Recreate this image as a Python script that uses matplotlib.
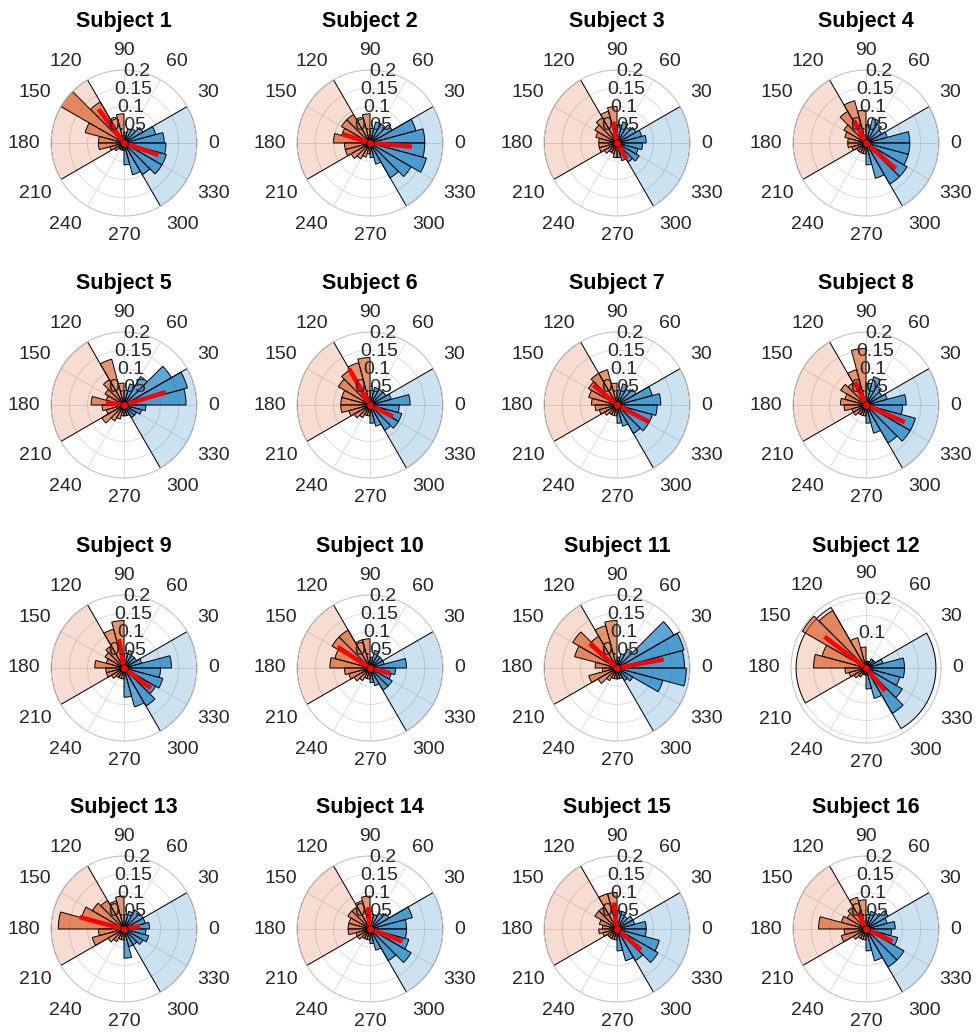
import numpy as np
import matplotlib
matplotlib.use('Agg')
import matplotlib.pyplot as plt

plt.rcParams['font.family'] = ['Liberation Sans', 'DejaVu Sans']

# 24 bins of 15 deg, bin k covers [15k, 15k+15) degrees, values are probabilities
subject_01 = [.11, .09, .06, .045, .04, .03, .08, .07, .13, .20, .11, .07, .07, .04, .03, .02, .02, .02, .06, .09, .10, .12, .12, .115]
subject_02 = [.15, .13, .07, .06, .06, .04, .08, .07, .09, .09, .08, .10, .07, .07, .06, .05, .04, .03, .04, .06, .11, .13, .16, .15]
subject_03 = [.08, .07, .06, .05, .06, .05, .10, .09, .08, .07, .06, .05, .05, .05, .04, .03, .03, .04, .04, .05, .06, .07, .06, .07]
subject_04 = [.12, .06, .05, .06, .07, .05, .09, .12, .10, .07, .06, .05, .05, .04, .03, .03, .03, .03, .06, .10, .13, .13, .12, .12]
subject_05 = [.17, .18, .15, .09, .06, .04, .06, .13, .08, .06, .05, .09, .06, .05, .07, .05, .04, .03, .03, .03, .04, .04, .05, .06]
subject_06 = [.11, .06, .05, .05, .05, .04, .13, .12, .11, .10, .08, .08, .08, .06, .05, .04, .03, .03, .05, .06, .08, .09, .09, .08]
subject_07 = [.12, .10, .06, .05, .06, .04, .06, .10, .10, .09, .08, .07, .06, .05, .04, .03, .03, .03, .05, .06, .09, .10, .10, .11]
subject_08 = [.11, .06, .05, .06, .08, .06, .155, .10, .07, .08, .06, .07, .06, .04, .04, .03, .03, .03, .05, .08, .12, .14, .14, .10]
subject_09 = [.13, .05, .04, .04, .05, .04, .13, .11, .07, .06, .05, .08, .05, .05, .04, .03, .03, .03, .08, .11, .12, .10, .11, .10]
subject_10 = [.10, .04, .04, .04, .05, .03, .08, .08, .12, .12, .10, .11, .07, .06, .05, .04, .03, .03, .04, .05, .07, .07, .06, .07]
subject_11 = [.185, .19, .18, .06, .04, .03, .13, .12, .10, .14, .12, .06, .04, .08, .06, .04, .03, .03, .03, .03, .04, .05, .13, .19]
subject_12 = [.11, .05, .03, .03, .02, .02, .06, .09, .19, .21, .13, .15, .06, .05, .04, .03, .02, .02, .06, .09, .15, .12, .10, .11]
subject_13 = [.07, .06, .06, .06, .05, .04, .09, .08, .09, .10, .12, .18, .07, .09, .05, .04, .03, .03, .08, .05, .05, .06, .07, .06]
subject_14 = [.10, .12, .06, .05, .04, .04, .09, .08, .07, .07, .06, .06, .06, .04, .04, .03, .03, .03, .04, .06, .10, .13, .11, .10]
subject_15 = [.08, .05, .05, .04, .05, .05, .10, .10, .07, .07, .05, .04, .05, .04, .03, .03, .03, .03, .06, .09, .10, .13, .12, .08]
subject_16 = [.08, .06, .07, .05, .05, .04, .08, .09, .07, .06, .07, .13, .06, .07, .04, .03, .03, .03, .06, .09, .12, .12, .09, .07]

subjects = [subject_01, subject_02, subject_03, subject_04, subject_05, subject_06, subject_07, subject_08,
            subject_09, subject_10, subject_11, subject_12, subject_13, subject_14, subject_15, subject_16]

# mean vectors (deg, length) for the right (blue) and left (orange) halves
right_dir = [-19, -5, -60, -41, 17, -27, -28, -24, -37, -15, 10.5, -50, 10, -21, -41, -25]
right_len = [.10, .115, .05, .108, .12, .07, .10, .116, .092, .058, .13, .086, .045, .095, .087, .08]
left_dir = [127, 162, 100, 118, 172, 120, 140, 115, 100, 147, 138, 143, 165, 95, 97, 115]
left_len = [.116, .08, .06, .07, .05, .115, .085, .07, .08, .106, .10, .148, .126, .06, .073, .05]

r_limits = [0.2] * 11 + [0.2145] + [0.2] * 4

blue = np.array([0, 0.447, 0.741])
orange = np.array([0.85, 0.325, 0.098])
txt_col = '#262626'

W, H = 977, 1034
fig = plt.figure(figsize=(W / 100, H / 100), dpi=100)

col_x = [124, 370, 617, 866]
row_y = [143, 405, 668, 929]

bin_w = np.deg2rad(15)
bin_c = np.deg2rad(np.arange(24) * 15 + 7.5)

for i, vals in enumerate(subjects):
    cx = col_x[i % 4]
    cy = row_y[i // 4]
    rlim = r_limits[i]
    R = 73 if rlim <= 0.2 else 75
    ax = fig.add_axes([(cx - R) / W, 1 - (cy + R) / H, 2 * R / W, 2 * R / H], projection='polar')

    # sector backgrounds
    ax.bar(np.deg2rad(-15), 0.2, width=np.deg2rad(90), color=tuple(blue) + (0.2,),
           edgecolor='k', linewidth=0.7, zorder=1)
    ax.bar(np.deg2rad(165), 0.2, width=np.deg2rad(90), color=tuple(orange) + (0.2,),
           edgecolor='k', linewidth=0.7, zorder=1)

    vals = np.array(vals)
    is_right = np.cos(bin_c) > 0
    ax.bar(bin_c[is_right], vals[is_right], width=bin_w, color=tuple(blue) + (0.62,),
           edgecolor='k', linewidth=0.7, zorder=2)
    ax.bar(bin_c[~is_right], vals[~is_right], width=bin_w, color=tuple(orange) + (0.62,),
           edgecolor='k', linewidth=0.7, zorder=2)

    for d, l in [(right_dir[i], right_len[i]), (left_dir[i], left_len[i])]:
        ax.plot([np.deg2rad(d)] * 2, [0, l], color='red', lw=3.3, solid_capstyle='butt', zorder=3)
    ax.plot([0], [0], 'o', color='red', mec='k', mew=0.7, ms=5.5, zorder=4)

    ax.set_ylim(0, rlim)
    ax.set_xticks(np.deg2rad(np.arange(0, 360, 30)))
    ax.set_xticklabels([])
    rt = [0.05, 0.1, 0.15, 0.2]
    ax.set_yticks(rt)
    ax.set_yticklabels([])
    ax.grid(True, color='#dcdcdc', lw=0.7)
    ax.set_axisbelow(True)
    ax.spines['polar'].set_color('#c8c8c8')
    ax.spines['polar'].set_linewidth(0.8)

    # radial labels along 80 deg
    for r in rt:
        if rlim > 0.2 and r in (0.05, 0.15):
            continue
        ax.text(np.deg2rad(80), r, '%g' % r, ha='center', va='center', fontsize=14,
                color=txt_col, zorder=5)

    # angle labels, aligned by their nearest edge
    r_lab = rlim * (R + 11) / R
    for a in range(0, 360, 30):
        t = np.deg2rad(a)
        c, s = np.cos(t), np.sin(t)
        ha = 'left' if c > 0.1 else ('right' if c < -0.1 else 'center')
        va = 'bottom' if s > 0.1 else ('top' if s < -0.1 else 'center')
        ax.text(t, r_lab, str(a), ha=ha, va=va, fontsize=14, color=txt_col, clip_on=False)

    fig.text(cx / W, 1 - (cy - 116) / H, 'Subject %d' % (i + 1), ha='center', va='baseline',
             fontsize=15.5, fontweight='bold', color='k')

fig.savefig('out.png', dpi=100)
